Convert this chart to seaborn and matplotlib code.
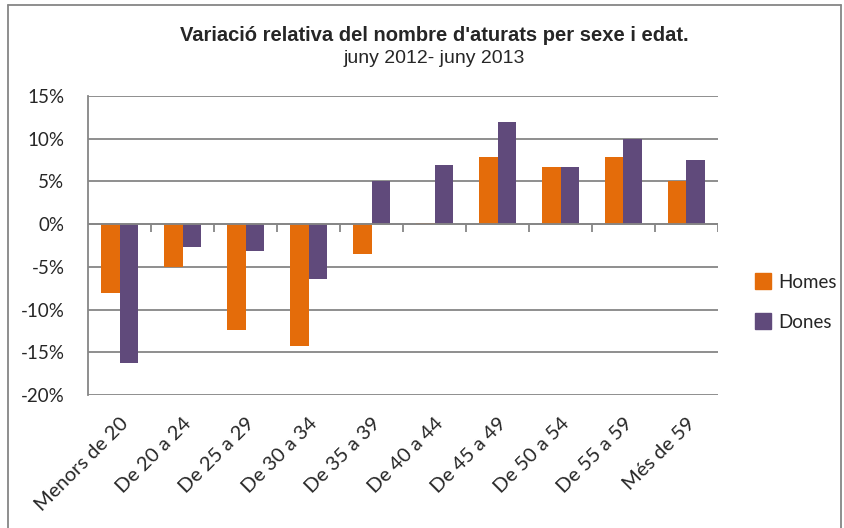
import numpy as np
import pandas as pd
import seaborn as sns
import matplotlib.pyplot as plt
from matplotlib.ticker import FuncFormatter
from matplotlib.lines import Line2D

ages = ["Menors de 20", "De 20 a 24", "De 25 a 29", "De 30 a 34", "De 35 a 39",
        "De 40 a 44", "De 45 a 49", "De 50 a 54", "De 55 a 59", "Més de 59"]
homes = [-8.1, -5.0, -12.4, -14.3, -3.5, 0.1, 7.9, 6.7, 7.9, 5.0]
dones = [-16.3, -2.7, -3.1, -6.4, 5.1, 6.9, 11.9, 6.7, 10.0, 7.5]

df = pd.DataFrame({
    "edat": ages * 2,
    "variacio": homes + dones,
    "sexe": ["Homes"] * len(ages) + ["Dones"] * len(ages),
})

sns.set_style("white")
plt.rcParams["font.family"] = ["Lato", "DejaVu Sans"]

grey = "#868686"
fig = plt.figure(figsize=(8.44, 5.28), dpi=100)
ax = fig.add_axes([0.1043, 0.2519, 0.7464, 0.5663])

sns.barplot(data=df, x="edat", y="variacio", hue="sexe",
            palette={"Homes": "#E46C0A", "Dones": "#604A7B"},
            width=0.58, gap=0, saturation=1, linewidth=0, ax=ax, legend=True)

ax.set_ylim(-20, 15)
ax.set_xlim(-0.5, len(ages) - 0.5)
ax.set_yticks(np.arange(-20, 16, 5))
ax.yaxis.set_major_formatter(FuncFormatter(lambda v, p: f"{v:.0f}%"))
ax.grid(axis="y", color=grey, linewidth=1.3)
ax.set_axisbelow(True)
for s in ["top", "right", "bottom"]:
    ax.spines[s].set_visible(False)
ax.spines["left"].set_color(grey)
ax.spines["left"].set_linewidth(1.3)
ax.tick_params(axis="y", length=8, color=grey, width=1.3, labelsize=13.5, pad=9)
ax.tick_params(axis="x", length=0, labelsize=14.5, pad=14)
ax.set_xlabel("")
ax.set_ylabel("")
for lab in ax.get_xticklabels():
    lab.set_rotation(45)
    lab.set_ha("right")
    lab.set_rotation_mode("anchor")

# category axis at zero with boundary tick marks
ax.axhline(0, color=grey, linewidth=1.3, zorder=3)
ax.vlines(np.arange(0.5, len(ages), 1), -0.9, 0, color=grey, linewidth=1.3, zorder=3)

handles = [Line2D([], [], marker="s", linestyle="", markersize=11, color=c)
           for c in ["#E46C0A", "#604A7B"]]
ax.legend(handles, ["Homes", "Dones"], loc="center left", bbox_to_anchor=(1.03, 0.31),
          frameon=False, fontsize=13.5, labelspacing=1.2, handletextpad=0.3,
          handlelength=1.0)

title_font = ["Liberation Sans Narrow", "Liberation Sans", "DejaVu Sans"]
fig.text(0.515, 0.932, "Variació relativa del nombre d'aturats per sexe i edat.",
         ha="center", va="center", fontsize=14.5, fontweight="bold", family=title_font)
fig.text(0.515, 0.889, "juny 2012- juny 2013", ha="center", va="center",
         fontsize=14, family=title_font)

# chart area border
fig.add_artist(Line2D([0.0095, 0.0095], [0, 0.99], color=grey, linewidth=1.3))
fig.add_artist(Line2D([0.0095, 0.997], [0.99, 0.99], color=grey, linewidth=1.3))
fig.add_artist(Line2D([0.997, 0.997], [0, 0.99], color=grey, linewidth=1.3))

fig.savefig("out.png", dpi=100)
